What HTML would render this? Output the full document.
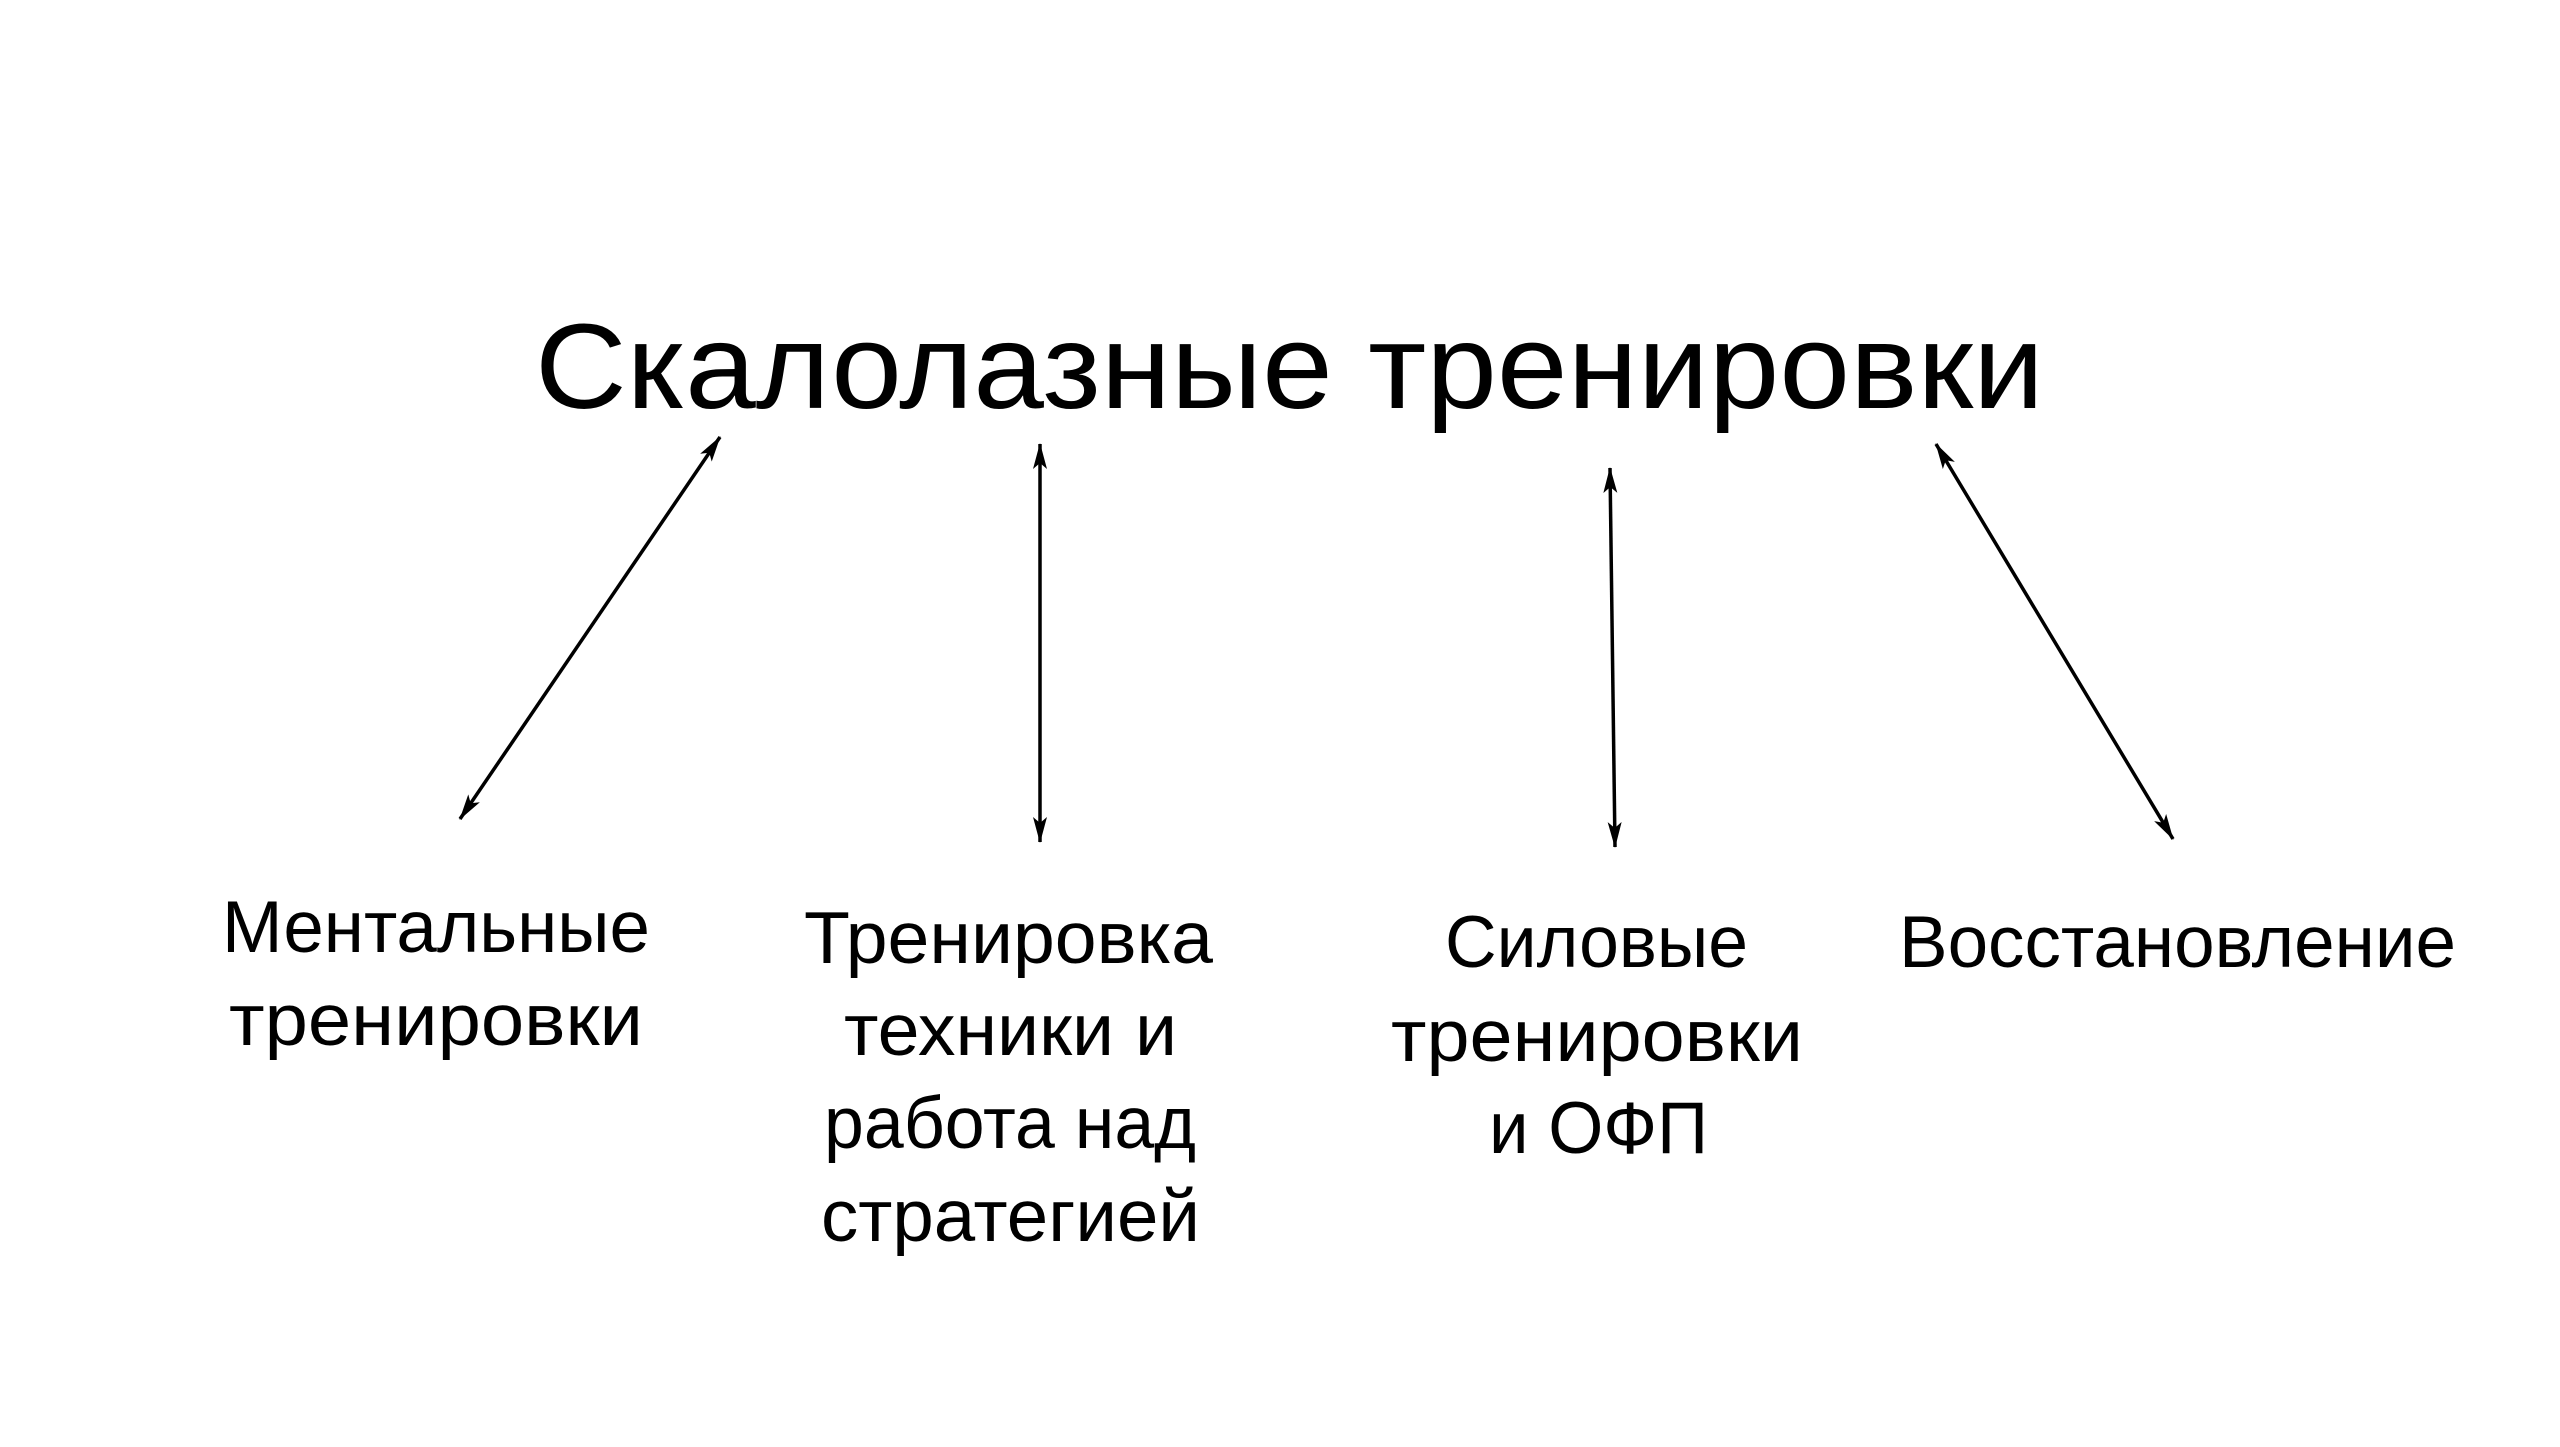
<!DOCTYPE html>
<html><head><meta charset="utf-8"><style>html,body{margin:0;padding:0;background:#fff}svg{display:block}</style></head>
<body>
<svg width="2560" height="1447" viewBox="0 0 2560 1447" xmlns="http://www.w3.org/2000/svg">
<defs>
<marker id="a" viewBox="0 0 26 14" refX="25" refY="7" markerWidth="26" markerHeight="14" markerUnits="userSpaceOnUse" orient="auto-start-reverse">
<path d="M0,0 L26,7 L0,14 L6,7 Z" fill="#000"/>
</marker>
</defs>
<g stroke="#000" stroke-width="3.5" fill="none">
<line x1="720" y1="437" x2="460" y2="819" marker-start="url(#a)" marker-end="url(#a)"/>
<line x1="1040" y1="444" x2="1040" y2="842" marker-start="url(#a)" marker-end="url(#a)"/>
<line x1="1610" y1="468" x2="1615" y2="847" marker-start="url(#a)" marker-end="url(#a)"/>
<line x1="1936" y1="444" x2="2173" y2="839" marker-start="url(#a)" marker-end="url(#a)"/>
</g>
<g font-family="Liberation Sans, sans-serif" fill="#000">
<text x="535" y="408" font-size="121" textLength="1509" lengthAdjust="spacingAndGlyphs">Скалолазные тренировки</text>
<g font-size="73">
<text x="222" y="952" textLength="428" lengthAdjust="spacingAndGlyphs">Ментальные</text>
<text x="229" y="1045" textLength="414" lengthAdjust="spacingAndGlyphs">тренировки</text>
<text x="804" y="963" textLength="409" lengthAdjust="spacingAndGlyphs">Тренировка</text>
<text x="844" y="1055" textLength="333" lengthAdjust="spacingAndGlyphs">техники и</text>
<text x="824" y="1148" textLength="372" lengthAdjust="spacingAndGlyphs">работа над</text>
<text x="821" y="1241" textLength="379" lengthAdjust="spacingAndGlyphs">стратегией</text>
<text x="1445" y="967" textLength="303" lengthAdjust="spacingAndGlyphs">Силовые</text>
<text x="1391" y="1061" textLength="412" lengthAdjust="spacingAndGlyphs">тренировки</text>
<text x="1489" y="1153" textLength="219" lengthAdjust="spacingAndGlyphs">и ОФП</text>
<text x="1899" y="967" textLength="557" lengthAdjust="spacingAndGlyphs">Восстановление</text>
</g>
</g>
</svg>
</body></html>
